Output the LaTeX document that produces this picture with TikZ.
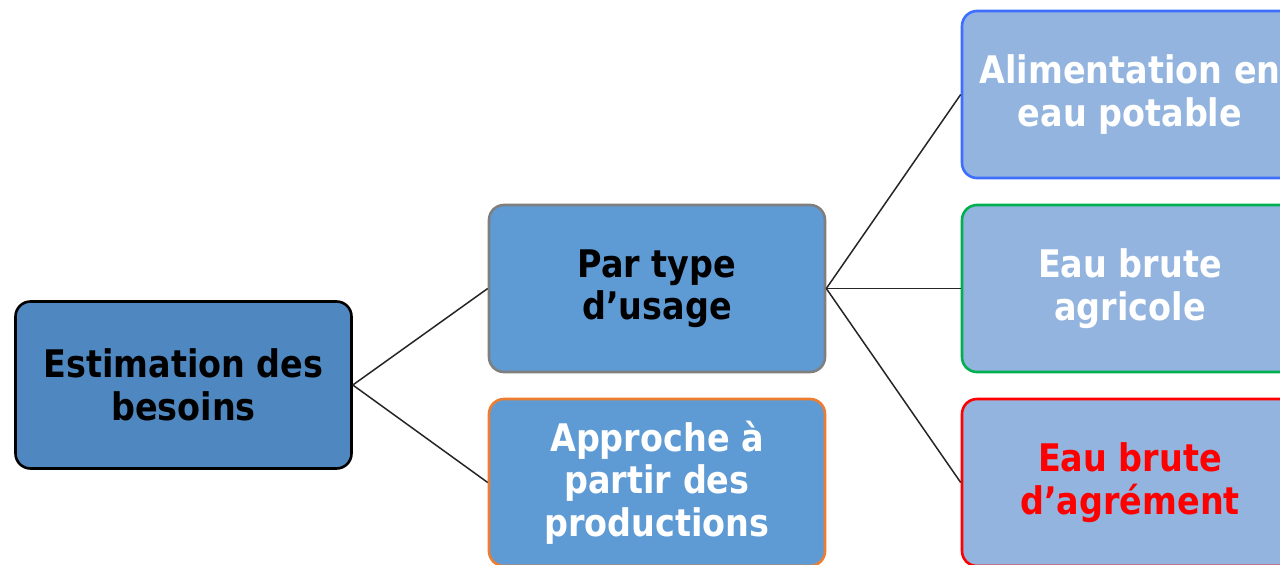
\documentclass[tikz,border=0pt]{standalone}
\usepackage{fontspec}
\setmainfont{DejaVu Sans}[FakeStretch=0.88]
\definecolor{rootfill}{HTML}{4F88C0}
\definecolor{midfill}{HTML}{5E9BD5}
\definecolor{leaffill}{HTML}{93B4DF}
\definecolor{bgray}{HTML}{7F7F7F}
\definecolor{borange}{HTML}{ED7D31}
\definecolor{bblue}{HTML}{3D6EFF}
\definecolor{bgreen}{HTML}{00B050}
\definecolor{bred}{HTML}{FF0000}
\begin{document}
\begin{tikzpicture}[x=1pt,y=-1pt,
  box/.style={rectangle, rounded corners=15pt, minimum width=336pt, minimum height=167pt,
    line width=2.6pt, align=center, inner sep=0pt,
    font=\fontsize{38}{42.5}\selectfont\bfseries},
  conn/.style={line width=1.5pt, black!85}]
\useasboundingbox (0,0) rectangle (1280,565);
\fill[white] (0,0) rectangle (1280,565);
\node[box, fill=rootfill, draw=black, text=black] (est) at (183.5,385) {Estimation des\\besoins};
\node[box, fill=midfill, draw=bgray, text=black] (par) at (657,288.5) {Par type\\d’usage};
\node[box, fill=midfill, draw=borange, text=white] (app) at (657,482.5) {Approche à\\partir des\\productions};
\node[box, fill=leaffill, draw=bblue, text=white] (ali) at (1130,94.5) {Alimentation en\\eau potable};
\node[box, fill=leaffill, draw=bgreen, text=white] (agr) at (1130,288.5) {Eau brute\\agricole};
\node[box, fill=leaffill, draw=bred, text=bred] (agm) at (1130,482.5) {Eau brute\\d’agrément};
\draw[conn] (est.east) -- (par.west);
\draw[conn] (est.east) -- (app.west);
\draw[conn] (par.east) -- (ali.west);
\draw[conn] (par.east) -- (agr.west);
\draw[conn] (par.east) -- (agm.west);
\end{tikzpicture}
\end{document}
